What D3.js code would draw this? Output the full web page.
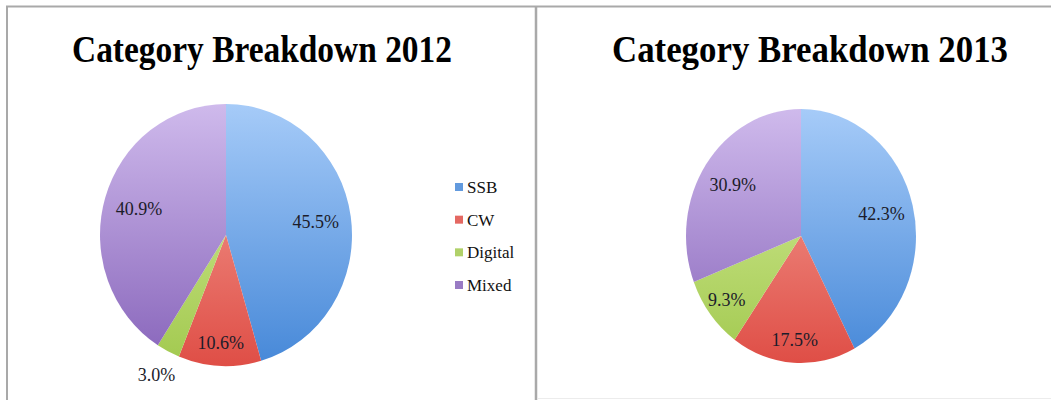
<!DOCTYPE html>
<html>
<head>
<meta charset="utf-8">
<script src="https://cdn.jsdelivr.net/npm/d3@7"></script>
<style>
  body { margin: 0; background: #fff; }
  svg { display: block; }
</style>
</head>
<body>
<script>
const width = 1051;
const height = 400;

// data
const categories = ['SSB', 'CW', 'Digital', 'Mixed'];
const values2012 = [45.5, 10.6, 3.0, 40.9];
const values2013 = [42.3, 17.5, 9.3, 30.9];
const titles = ['Category Breakdown 2012', 'Category Breakdown 2013'];

// light (top) / dark (bottom) shade per category
const colorsTop = ['#a6cbf8', '#f6a79d', '#d8ee9e', '#cfbaec'];
const colorsBottom = ['#4688d8', '#df4e46', '#a2c94f', '#8764ba'];

const charts = [
  {title: titles[0], values: values2012, cx: 226, cy: 235, rx: 126, ry: 131, titleX: 262, titleW: 380},
  {title: titles[1], values: values2013, cx: 801, cy: 236, rx: 115, ry: 127, titleX: 810, titleW: 396}
];

const svg = d3.select('body')
  .append('svg')
  .attr('width', width)
  .attr('height', height);

const defs = svg.append('defs');

// frame lines
svg.append('line').attr('x1', 6).attr('x2', width).attr('y1', 6.5).attr('y2', 6.5)
  .attr('stroke', '#a9a9a9').attr('stroke-width', 2);
svg.append('line').attr('x1', 7).attr('x2', 7).attr('y1', 6).attr('y2', height)
  .attr('stroke', '#a9a9a9').attr('stroke-width', 2);
svg.append('line').attr('x1', 536).attr('x2', 536).attr('y1', 6).attr('y2', height)
  .attr('stroke', '#a9a9a9').attr('stroke-width', 2.5);
svg.append('line').attr('x1', 538).attr('x2', width).attr('y1', 398.5).attr('y2', 398.5)
  .attr('stroke', '#ececec').attr('stroke-width', 1);

const pie = d3.pie().sort(null).value(d => d);

charts.forEach((c, ci) => {
  const sy = c.ry / c.rx;

  categories.forEach((cat, i) => {
    const grad = defs.append('linearGradient')
      .attr('id', `g${ci}-${i}`)
      .attr('gradientUnits', 'userSpaceOnUse')
      .attr('x1', 0).attr('y1', -c.rx)
      .attr('x2', 0).attr('y2', c.rx);
    grad.append('stop').attr('offset', '0%').attr('stop-color', colorsTop[i]);
    grad.append('stop').attr('offset', '100%').attr('stop-color', colorsBottom[i]);
  });

  svg.append('text')
    .attr('x', c.titleX)
    .attr('y', 62)
    .attr('text-anchor', 'middle')
    .attr('textLength', c.titleW)
    .attr('lengthAdjust', 'spacingAndGlyphs')
    .style('font-family', '"Liberation Serif", serif')
    .style('font-weight', 'bold')
    .style('font-size', '37px')
    .attr('fill', '#000')
    .text(c.title);

  const arcs = pie(c.values);
  const arc = d3.arc().innerRadius(0).outerRadius(c.rx);

  const g = svg.append('g')
    .attr('transform', `translate(${c.cx},${c.cy}) scale(1,${sy})`);

  g.selectAll('path')
    .data(arcs)
    .enter().append('path')
    .attr('fill', (d, i) => `url(#g${ci}-${i})`)
    .attr('stroke', 'none')
    .attr('d', arc);

  // label radius: big slices nearer the middle, small ones near the rim, tiny ones outside
  const labelR = d => {
    const v = d.data;
    if (v < 5) return c.rx * 1.2;
    if (v < 20) return c.rx * 0.82;
    return c.rx * 0.72;
  };

  svg.append('g')
    .attr('transform', `translate(${c.cx},${c.cy})`)
    .selectAll('text')
    .data(arcs)
    .enter().append('text')
    .attr('transform', d => {
      const r = labelR(d);
      const p = d3.arc().innerRadius(r).outerRadius(r).centroid(d);
      return `translate(${p[0]},${p[1] * sy})`;
    })
    .attr('dy', '0.35em')
    .attr('text-anchor', 'middle')
    .style('font-family', '"Liberation Serif", serif')
    .style('font-size', '18px')
    .attr('fill', '#1c1c2a')
    .text(d => d.data.toFixed(1) + '%');
});

// legend
const legendY = d3.scalePoint().domain(categories).range([187, 285]);
const legend = svg.append('g')
  .selectAll('g')
  .data(categories)
  .enter().append('g')
  .attr('transform', d => `translate(455,${legendY(d)})`);

legend.append('rect')
  .attr('x', 0).attr('y', -4)
  .attr('width', 8).attr('height', 8)
  .attr('fill', (d, i) => colorsBottom[i])
  .attr('opacity', 0.85);

legend.append('text')
  .attr('x', 12)
  .attr('dy', '0.35em')
  .style('font-family', '"Liberation Serif", serif')
  .style('font-size', '17px')
  .attr('fill', '#111')
  .text(d => d);
</script>
</body>
</html>
